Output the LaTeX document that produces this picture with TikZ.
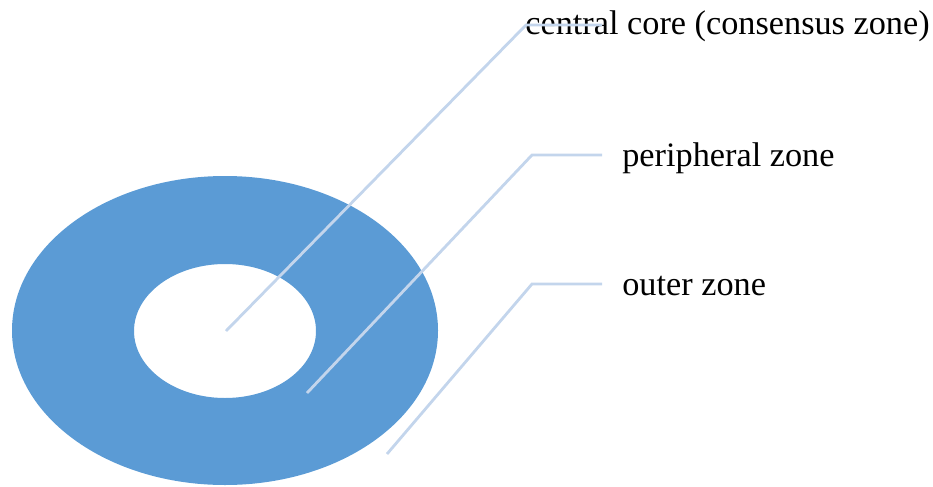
\documentclass[tikz,border=0pt]{standalone}
\usepackage{fontspec}
\setmainfont{Liberation Serif}
\usepackage{xcolor}
\definecolor{ringblue}{HTML}{5B9BD5}
\definecolor{leaderblue}{HTML}{C3D5EC}

\begin{document}
\begin{tikzpicture}[
        zonelabel/.style={anchor=base west,inner sep=0pt,font=\fontsize{19.5}{23}\selectfont},
        leader/.style={draw=leaderblue,line width=1.6pt}
    ]
        \useasboundingbox (0,0) rectangle (18.66,9.72);

        \fill[ringblue,even odd rule] (4.5,3.11) ellipse [x radius=4.26,y radius=3.09]
            (4.5,3.10) ellipse [x radius=1.82,y radius=1.34];

        \node[zonelabel] (core) at (10.5,9.02) {central core (consensus zone)};
        \node[zonelabel] (periph) at (12.44,6.40) {peripheral zone};
        \node[zonelabel] (outer) at (12.44,3.82) {outer zone};

        \coordinate (c1) at (4.52,3.10);
        \coordinate (k1) at (10.52,9.22);
        \coordinate (e1) at (12.04,9.22);
        \coordinate (c2) at (6.14,1.86);
        \coordinate (k2) at (10.64,6.62);
        \coordinate (e2) at (12.04,6.62);
        \coordinate (c3) at (7.74,0.64);
        \coordinate (k3) at (10.64,4.04);
        \coordinate (e3) at (12.04,4.04);

        \draw[leader] (c1) -- (k1) -- (e1);
        \draw[leader] (c2) -- (k2) -- (e2);
        \draw[leader] (c3) -- (k3) -- (e3);
    \end{tikzpicture}
\end{document}
